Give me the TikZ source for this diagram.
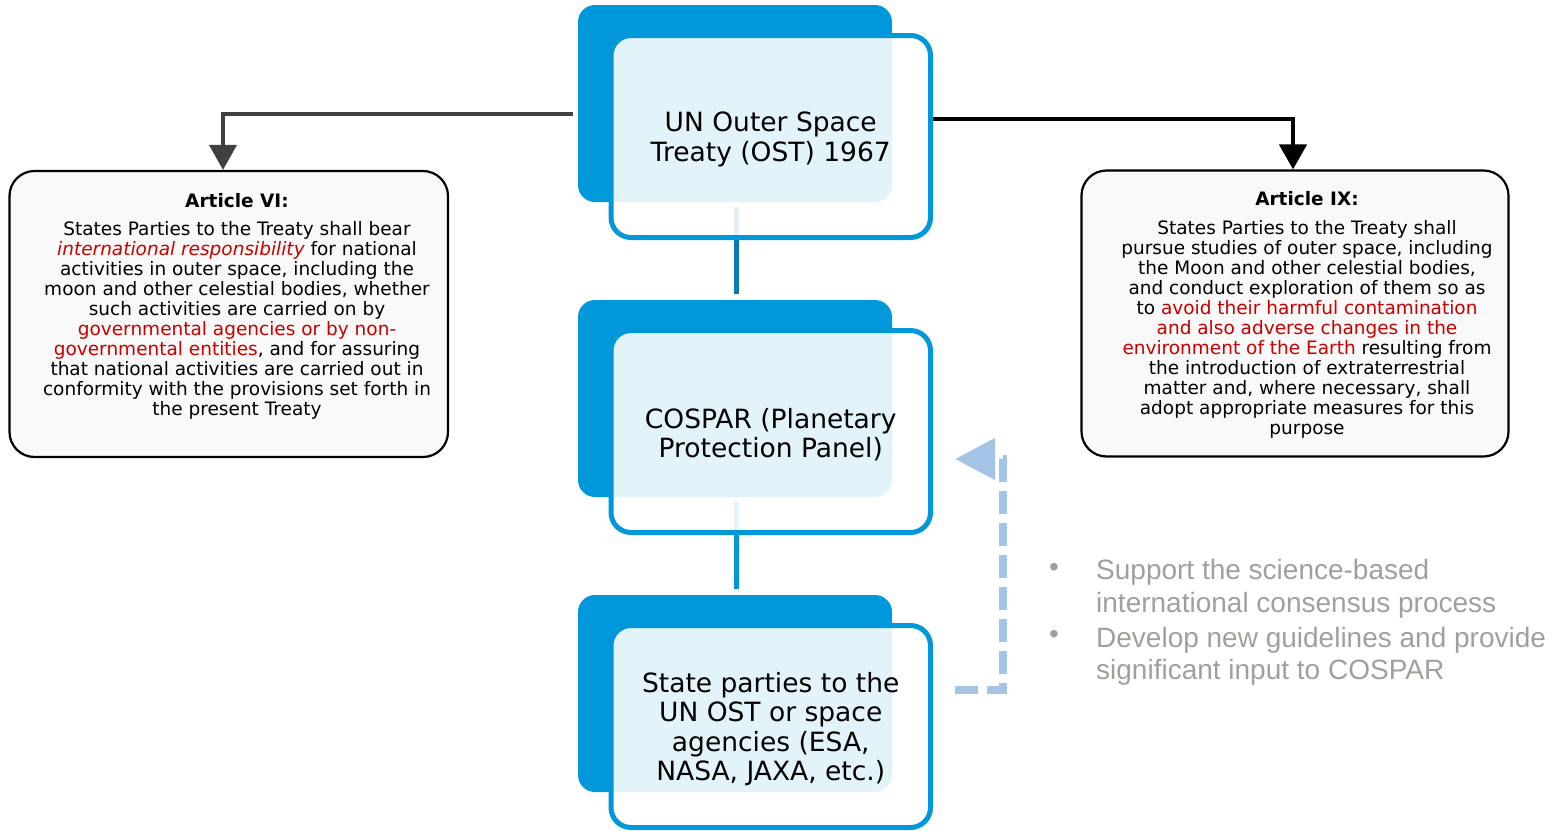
\documentclass[tikz,border=0pt]{standalone}
\usepackage{fontspec}
\setmainfont{DejaVu Sans}
\newfontfamily\arialfont{Liberation Sans}
\usetikzlibrary{arrows.meta,calc}
\definecolor{boxblue}{RGB}{0,152,218}
\definecolor{connblue}{RGB}{10,122,178}
\definecolor{dashblue}{RGB}{164,196,230}
\definecolor{arrgray}{RGB}{64,64,64}
\definecolor{graytxt}{RGB}{160,160,155}
\definecolor{boxfill}{RGB}{249,249,249}
\definecolor{redtxt}{RGB}{200,0,0}
\newcommand{\redpart}[1]{\textcolor{redtxt}{#1}}
\begin{document}
\begin{tikzpicture}[x=1pt,y=-1pt,
  backbox/.style={fill=boxblue, draw=none, rounded corners=17pt, minimum width=314pt, minimum height=197pt, inner sep=0pt},
  frontbox/.style={draw=boxblue, line width=5pt, fill=white, fill opacity=0.89, rounded corners=20pt, minimum width=319.5pt, minimum height=202pt, inner sep=0pt},
  boxtext/.style={align=center, font=\fontsize{26.5}{29.3}\selectfont, inner sep=0pt},
  artbox/.style={draw=black, line width=2.2pt, fill=boxfill, rounded corners=25pt, minimum height=286pt, inner sep=0pt},
  arttitle/.style={font=\fontsize{18.5}{20}\selectfont\bfseries, anchor=base, inner sep=0pt},
  artbody/.style={font=\fontsize{18.5}{20}\selectfont, align=center, anchor=north, inner sep=0pt},
  vconn/.style={line width=5pt},
  arrline/.style={line width=4pt, -{Triangle[length=25pt,width=27pt]}},
  dasharrow/.style={draw=dashblue, line width=8pt, dash pattern=on 23pt off 9pt, -{Triangle[length=40pt,width=40pt]}},
  bulletdot/.style={font=\arialfont\fontsize{28}{28}\selectfont, text=graytxt, inner sep=0pt},
  bullettext/.style={font=\arialfont\fontsize{28}{32.5}\selectfont, text=graytxt, align=left, anchor=north west, inner sep=0pt}
]
\useasboundingbox (0,0) rectangle (1550,830);

% back boxes
\node[backbox] (topB) at (735,103.5) {};
\node[backbox] (midB) at (735,398.5) {};
\node[backbox] (botB) at (735,693.5) {};

% vertical connectors
\draw[vconn, connblue] ($(topB.south)+(1,5)$) -- ($(midB.north)+(1,-6)$);
\draw[vconn, boxblue] ($(midB.south)+(1,5)$) -- ($(botB.north)+(1,-6)$);

% front boxes
\node[frontbox] (topF) at (770.75,136.5) {};
\node[frontbox] (midF) at (770.75,431.5) {};
\node[frontbox] (botF) at (770.75,726.5) {};

\node[boxtext] (topT) at ($(topF.center)+(0,3)$) {UN Outer Space\\Treaty (OST) 1967};
\node[boxtext] (midT) at ($(midF.center)+(0,3)$) {COSPAR (Planetary\\Protection Panel)};
\node[boxtext] (botT) at ($(botF.center)+(0,2.5)$) {State parties to the\\UN OST or space\\agencies (ESA,\\NASA, JAXA, etc.)};

% article boxes
\node[artbox, minimum width=438.5pt] (art6) at (228.75,314) {};
\node[artbox, minimum width=427pt] (art9) at (1295,313.5) {};

\node[arttitle] (t6) at (237,207) {Article VI:};
\node[artbody] (b6) at (237,221.5) {States Parties to the Treaty shall bear\\
\redpart{\itshape international responsibility} for national\\
activities in outer space, including the\\
moon and other celestial bodies, whether\\
such activities are carried on by\\
\redpart{governmental agencies or by non-}\\
\redpart{governmental entities}, and for assuring\\
that national activities are carried out in\\
conformity with the provisions set forth in\\
the present Treaty};

\node[arttitle] (t9) at (1307,205) {Article IX:};
\node[artbody] (b9) at (1307,219.8) {States Parties to the Treaty shall\\
pursue studies of outer space, including\\
the Moon and other celestial bodies,\\
and conduct exploration of them so as\\
to \redpart{avoid their harmful contamination}\\
\redpart{and also adverse changes in the}\\
\redpart{environment of the Earth} resulting from\\
the introduction of extraterrestrial\\
matter and, where necessary, shall\\
adopt appropriate measures for this\\
purpose};

% arrows to articles
\draw[arrline, draw=arrgray] ($(topB.west)+(-5,10)$) -| ($(art6.north)+(-5.75,0)$);
\draw[arrline, line width=4.5pt, draw=black] ($(topF.east)+(0,-17.5)$) -| ($(art9.north)+(-2,0)$);

% dashed feedback arrow
\coordinate (dS) at (955,690);
\coordinate (dE) at (955,459);
\draw[dasharrow] (dS) -- ++(48,0) |- (dE);

% bullets
\node[bulletdot] (d1) at (1054,570) {•};
\node[bulletdot] (d2) at (1054,637) {•};
\node[bullettext] (l1) at (1096,559.5) {Support the science-based\\international consensus process};
\node[bullettext] (l2) at (1096,627) {Develop new guidelines and provide\\significant input to COSPAR};
\end{tikzpicture}
\end{document}
